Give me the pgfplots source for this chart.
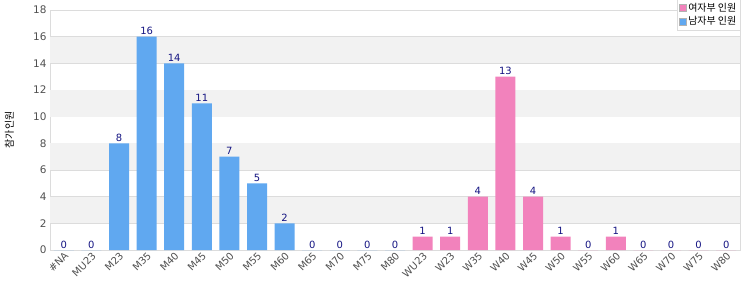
\documentclass[border=0pt]{standalone}
\usepackage{pgfplots}
\pgfplotsset{compat=1.18}
\usepackage{fontspec}
\setmainfont{DejaVu Sans}
\newfontfamily\kr{Noto Sans CJK KR}
\definecolor{barblue}{RGB}{96,168,240}
\definecolor{barpink}{RGB}{242,130,188}
\definecolor{valblue}{RGB}{20,20,130}
\definecolor{tickgray}{RGB}{80,80,80}
\definecolor{gridgray}{RGB}{220,220,220}
\definecolor{bandgray}{RGB}{242,242,242}
\begin{document}
\begin{tikzpicture}
\useasboundingbox (-50bp,-50bp) rectangle (700bp,250bp);
\begin{axis}[
  scale only axis, width=690bp, height=240bp,
  xmin=-0.5, xmax=24.5, ymin=0, ymax=18,
  ytick={0,2,...,18},
  xtick={0,...,24},
  xticklabels={\#NA,MU23,M23,M35,M40,M45,M50,M55,M60,M65,M70,M75,M80,WU23,W23,W35,W40,W45,W50,W55,W60,W65,W70,W75,W80},
  x tick label style={rotate=45, anchor=north east, font=\fontsize{10}{11}\selectfont, text=tickgray, inner sep=1pt},
  y tick label style={font=\fontsize{10.5}{11}\selectfont, text=tickgray},
  /pgf/number format/assume math mode=true,
  major tick length=0pt,
  ymajorgrids, grid style={gridgray},
  axis line style={gridgray},
  ylabel={\kr 참가인원}, ylabel style={font=\fontsize{10}{11}\selectfont, text=black, at={(axis description cs:-0.052,0.5)}, anchor=south, inner sep=0pt},
  ybar, bar width=20bp, bar shift=0pt,
  nodes near coords,
  every node near coord/.append style={font=\fontsize{10}{11}\selectfont, text=valblue, inner sep=1.5pt},
  legend style={at={(1,1.045)}, anchor=north east, draw=gridgray, fill=white, font=\kr\fontsize{10}{11}\selectfont, row sep=0pt, inner sep=1.5pt},
  legend cell align=left,
  legend image code/.code={\draw[#1, draw=gray!60] (0cm,-0.12cm) rectangle (0.24cm,0.12cm);},
  clip=false,
]
\fill[bandgray] (axis cs:-0.5,2) rectangle (axis cs:24.5,4);
\fill[bandgray] (axis cs:-0.5,6) rectangle (axis cs:24.5,8);
\fill[bandgray] (axis cs:-0.5,10) rectangle (axis cs:24.5,12);
\fill[bandgray] (axis cs:-0.5,14) rectangle (axis cs:24.5,16);
\addplot[fill=barpink, draw=none] coordinates {(13,1) (14,1) (15,4) (16,13) (17,4) (18,1) (19,0) (20,1) (21,0) (22,0) (23,0) (24,0)};
\addlegendentry{여자부 인원}
\addplot[fill=barblue, draw=none] coordinates {(0,0) (1,0) (2,8) (3,16) (4,14) (5,11) (6,7) (7,5) (8,2) (9,0) (10,0) (11,0) (12,0)};
\addlegendentry{남자부 인원}
\end{axis}
\end{tikzpicture}
\end{document}
